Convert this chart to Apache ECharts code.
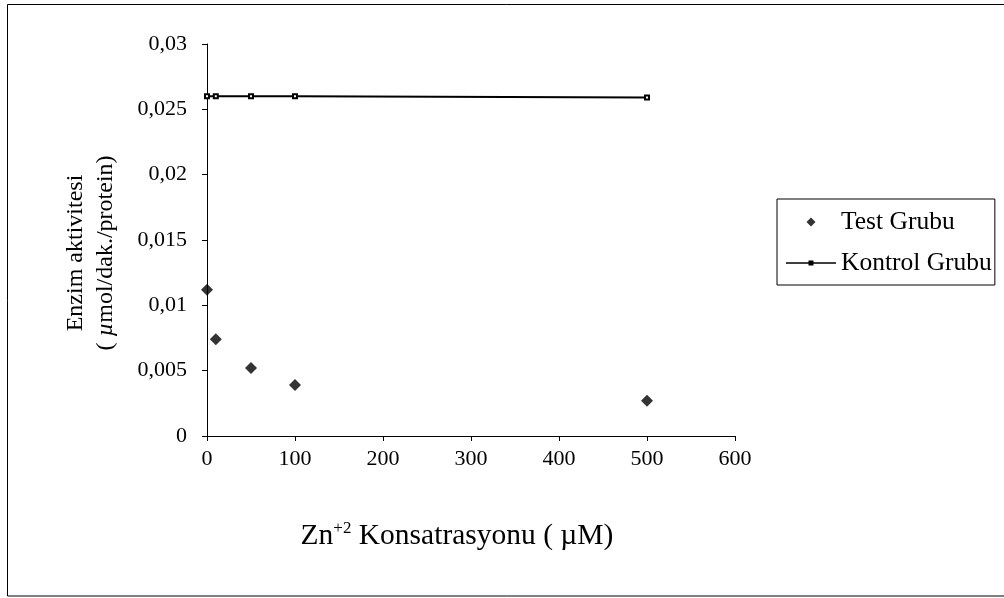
<!DOCTYPE html>
<html>
<head>
<meta charset="utf-8">
<script src="https://cdn.jsdelivr.net/npm/echarts@6/dist/echarts.min.js"></script>
<style>
  html, body { margin: 0; padding: 0; background: #fff; }
  #chart { width: 1004px; height: 598px; }
</style>
</head>
<body>
<div id="chart"></div>
<script>
// Zn+2 concentration (µM) and measured enzyme activity
const concentrations = [0, 10, 50, 100, 500];
const testValues = [0.0112, 0.0074, 0.0052, 0.0039, 0.0027];
const controlValues = [0.0260, 0.0260, 0.0260, 0.0260, 0.0259];
const seriesNames = ['Test Grubu', 'Kontrol Grubu'];
const xTitle = 'Zn{sup|+2} Konsatrasyonu ( µM)';
const yTitleLine1 = 'Enzim aktivitesi';
const yTitleLine2 = '( {it|µ}mol/dak./protein)';

// Legend keys: zero-size corner points keep each key at the full 50x10 box,
// so the diamond keeps its shape and the line key gets a small square on it.
const KEY_TEST = 'path://M0,0L0,0ZM50,10L50,10ZM25,0.5L29.5,5L25,9.5L20.5,5Z';
const KEY_CONTROL = 'path://M0,0L0,0ZM50,10L50,10ZM0,4.2L50,4.2L50,5.8L0,5.8ZM22.5,2.5L27.5,2.5L27.5,7.5L22.5,7.5Z';

const FONT = '"Liberation Serif", "Times New Roman", serif';
const chart = echarts.init(document.getElementById('chart'), null, { renderer: 'canvas' });

const pairs = (xs, ys) => xs.map((x, i) => [x, ys[i]]);

chart.setOption({
  animation: false,
  backgroundColor: '#fff',
  textStyle: { fontFamily: FONT, color: '#000' },
  graphic: [{
    type: 'rect',
    shape: { x: 7.5, y: 4.5, width: 1010, height: 591.5 },
    style: { fill: 'none', stroke: '#000', lineWidth: 1 },
    silent: true
  }],
  grid: { left: 207, top: 44, right: 269, bottom: 162, containLabel: false },
  legend: {
    orient: 'vertical',
    left: 777,
    top: 199,
    backgroundColor: '#fff',
    borderColor: '#000',
    borderWidth: 1,
    borderRadius: 0,
    padding: [10, 3, 9, 9],
    itemWidth: 50,
    itemHeight: 10,
    itemGap: 15,
    textStyle: { fontFamily: FONT, fontSize: 25.5, lineHeight: 26, color: '#000' },
    data: [
      { name: seriesNames[0], icon: KEY_TEST, itemStyle: { color: '#000', borderWidth: 0 } },
      { name: seriesNames[1], icon: KEY_CONTROL, itemStyle: { color: '#000', borderWidth: 0 } }
    ]
  },
  xAxis: {
    type: 'value',
    min: 0, max: 600, interval: 100,
    name: xTitle,
    nameLocation: 'middle',
    nameGap: 84,
    nameTextStyle: {
      fontFamily: FONT, fontSize: 29.5, color: '#000',
      padding: [0, 28, 0, 0],
      rich: { sup: { fontFamily: FONT, fontSize: 17, padding: [0, 0, 15, 0], color: '#000' } }
    },
    splitLine: { show: false },
    axisLine: { show: true, lineStyle: { color: '#000', width: 1 } },
    axisTick: { show: true, inside: false, length: 5, lineStyle: { color: '#000' } },
    axisLabel: { margin: 12, fontFamily: FONT, fontSize: 22, color: '#000' }
  },
  yAxis: {
    type: 'value',
    min: 0, max: 0.03, interval: 0.005,
    name: yTitleLine1 + '\n' + yTitleLine2,
    nameLocation: 'middle',
    nameRotate: 90,
    nameGap: 86,
    nameTextStyle: {
      fontFamily: FONT, fontSize: 24, lineHeight: 30, color: '#000',
      align: 'center',
      padding: [0, 26, 0, 0],
      rich: { it: { fontFamily: FONT, fontSize: 24, fontStyle: 'italic', color: '#000' } }
    },
    splitLine: { show: false },
    axisLine: { show: true, lineStyle: { color: '#000', width: 1 } },
    axisTick: { show: true, inside: false, length: 5, lineStyle: { color: '#000' } },
    axisLabel: {
      margin: 20, fontFamily: FONT, fontSize: 22, color: '#000',
      formatter: v => String(+v.toFixed(3)).replace('.', ',')
    }
  },
  series: [
    {
      name: seriesNames[0],
      type: 'scatter',
      symbol: 'diamond',
      symbolSize: 12,
      itemStyle: { color: '#000' },
      data: pairs(concentrations, testValues)
    },
    {
      name: seriesNames[1],
      type: 'line',
      symbol: 'emptyRect',
      symbolSize: 4,
      showSymbol: true,
      lineStyle: { color: '#000', width: 2 },
      itemStyle: { color: '#000', borderColor: '#000', borderWidth: 2.5 },
      data: pairs(concentrations, controlValues)
    }
  ]
});
</script>
</body>
</html>
